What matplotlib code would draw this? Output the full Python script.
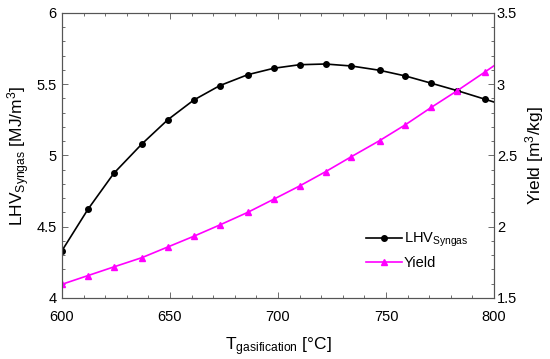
import matplotlib
matplotlib.use("Agg")
import matplotlib.pyplot as plt
from matplotlib.ticker import MultipleLocator

plt.rcParams['font.family'] = ['Liberation Sans', 'DejaVu Sans']
plt.rcParams['mathtext.fontset'] = 'custom'
plt.rcParams['mathtext.rm'] = 'Liberation Sans'
plt.rcParams['mathtext.it'] = 'Liberation Sans:italic'

temperature = [600, 612, 624, 637, 649, 661, 673, 686, 698, 710, 722, 734, 747, 759, 771, 783, 796, 800]
lhv_syngas = [4.332, 4.622, 4.875, 5.081, 5.251, 5.389, 5.490, 5.567, 5.612, 5.637, 5.642, 5.628,
              5.598, 5.558, 5.507, 5.455, 5.394, 5.375]
yield_gas = [1.596, 1.657, 1.718, 1.783, 1.858, 1.933, 2.012, 2.101, 2.193, 2.286, 2.386, 2.492,
             2.604, 2.716, 2.838, 2.955, 3.088, 3.130]
marker_idx = list(range(17))

fig = plt.figure(figsize=(5.5, 3.59), dpi=100)
ax = fig.add_axes([0.1127, 0.170, 0.7855, 0.7938])
ax2 = ax.twinx()

l1, = ax.plot(temperature, lhv_syngas, color='black', lw=1.2, marker='o', ms=4,
              markevery=marker_idx, label='LHV$_{\\mathrm{Syngas}}$')
l2, = ax2.plot(temperature, yield_gas, color='#ff00ff', lw=1.2, marker='^', ms=4,
               markevery=marker_idx, label='Yield')

ax.set_xlim(600, 800)
ax.set_ylim(4, 6)
ax2.set_ylim(1.5, 3.5)

ax.xaxis.set_minor_locator(MultipleLocator(10))
ax.yaxis.set_minor_locator(MultipleLocator(0.1))
ax2.yaxis.set_minor_locator(MultipleLocator(0.1))

ax.set_xticks([600, 650, 700, 750, 800])
ax.set_xticklabels(['600', '650', '700', '750', '800'])
ax.set_yticks([4, 4.5, 5, 5.5, 6])
ax.set_yticklabels(['4', '4.5', '5', '5.5', '6'])
ax2.set_yticks([1.5, 2, 2.5, 3, 3.5])
ax2.set_yticklabels(['1.5', '2', '2.5', '3', '3.5'])

for a in (ax, ax2):
    for s in a.spines.values():
        s.set_color('#555555')
        s.set_linewidth(0.8)
ax.tick_params(which='major', direction='in', length=4, width=0.6, colors='#555555',
               labelcolor='black', labelsize=10.5, top=True)
ax.tick_params(axis='x', which='major', pad=9)
ax.tick_params(axis='y', which='major', pad=4)
ax.tick_params(which='minor', direction='in', length=2.5, width=0.6, colors='#555555', top=True)
ax.tick_params(axis='y', which='both', right=False)
ax2.tick_params(which='major', direction='in', length=4, width=0.6, colors='#555555',
                labelcolor='black', labelsize=10.5, pad=2)
ax2.tick_params(which='minor', direction='in', length=2.5, width=0.6, colors='#555555')

ax.set_xlabel('T$_{\\mathrm{gasification}}$ [°C]', fontsize=12.5, labelpad=8)
ax.set_ylabel('LHV$_{\\mathrm{Syngas}}$ [MJ/m$^{3}$]', fontsize=12.5)
ax2.set_ylabel('Yield [m$^{3}$/kg]', fontsize=12.5)
ax.yaxis.set_label_coords(-0.069, 0.5)
ax2.yaxis.set_label_coords(1.068, 0.5)

leg = ax.legend([l1, l2], ['LHV$_{\\mathrm{Syngas}}$', 'Yield'], loc='upper left',
                bbox_to_anchor=(0.69, 0.255), frameon=False, fontsize=10.5,
                handlelength=2.45, handletextpad=0.15, borderaxespad=0, labelspacing=0.45)

fig.savefig('out.png', dpi=100)
